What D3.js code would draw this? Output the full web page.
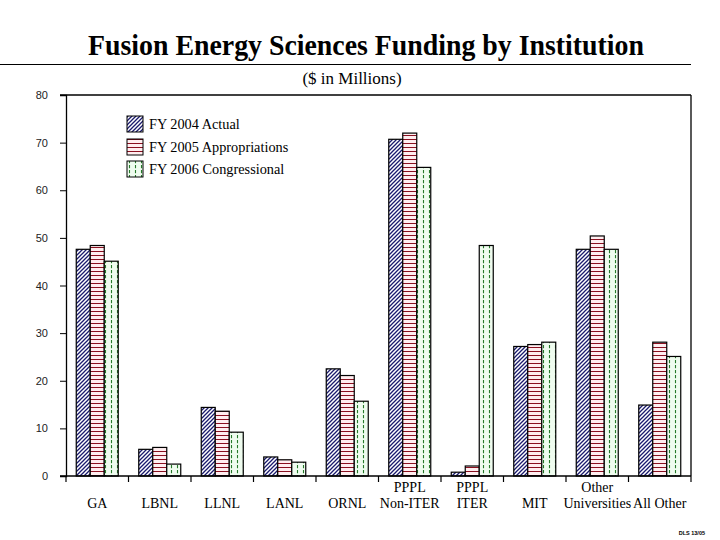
<!DOCTYPE html>
<html><head><meta charset="utf-8">
<script src="https://cdn.jsdelivr.net/npm/d3@7"></script>
<style>body{margin:0;background:#fff}</style>
</head><body>
<svg id="c" width="720" height="540"></svg>
<script>
const categories = ["GA","LBNL","LLNL","LANL","ORNL","PPPL\nNon-ITER","PPPL\nITER","MIT","Other\nUniversities","All Other"];
const fy2004 = [47.6, 5.6, 14.4, 4.0, 22.5, 70.7, 0.8, 27.2, 47.6, 14.9];
const fy2005 = [48.4, 6.0, 13.6, 3.4, 21.1, 72.0, 2.1, 27.6, 50.4, 28.1];
const fy2006 = [45.1, 2.5, 9.2, 2.9, 15.7, 64.8, 48.4, 28.1, 47.6, 25.1];
const seriesNames = ["FY 2004 Actual","FY 2005 Appropriations","FY 2006 Congressional"];
const yTicks = [0,10,20,30,40,50,60,70,80];

const svg = d3.select("#c");
const m = {left:66, right:691, top:95, bottom:476};

const defs = svg.append("defs");
// blue diagonal
const p1 = defs.append("pattern").attr("id","p0").attr("patternUnits","userSpaceOnUse").attr("width",4).attr("height",4);
p1.append("rect").attr("width",4).attr("height",4).attr("fill","#fff");
p1.append("path").attr("d","M-1,1 l2,-2 M0,4 l4,-4 M3,5 l2,-2").attr("stroke","#1a1a6e").attr("stroke-width",1.3);
// red horizontal
const p2 = defs.append("pattern").attr("id","p1").attr("patternUnits","userSpaceOnUse").attr("width",4).attr("height",4);
p2.append("rect").attr("width",4).attr("height",4).attr("fill","#ffeef0");
p2.append("path").attr("d","M0,3.5 H4").attr("stroke","#8a1020").attr("stroke-width",1);
// green vertical dashed
const p3 = defs.append("pattern").attr("id","p2").attr("patternUnits","userSpaceOnUse").attr("width",6).attr("height",5);
p3.append("rect").attr("width",6).attr("height",5).attr("fill","#effcef");
p3.append("path").attr("d","M3.5,0 V3.2").attr("stroke","#267a2a").attr("stroke-width",1.1);

const x = d3.scaleBand().domain(categories).range([m.left, m.right]).paddingInner(0).paddingOuter(0);
const xs = d3.scaleBand().domain([0,1,2]).range([0, 42]);
const y = d3.scaleLinear().domain([0,80]).range([m.bottom, m.top]);

// Title
svg.append("text").attr("x",366).attr("y",55).attr("text-anchor","middle")
  .attr("font-family","Liberation Serif, Times New Roman, serif").attr("font-weight","bold").attr("font-size",29)
  .attr("textLength",556).attr("lengthAdjust","spacingAndGlyphs")
  .text("Fusion Energy Sciences Funding by Institution");
svg.append("line").attr("x1",0).attr("x2",691).attr("y1",64.5).attr("y2",64.5).attr("stroke","#000").attr("stroke-width",1);
svg.append("text").attr("x",352).attr("y",84).attr("text-anchor","middle")
  .attr("font-family","Liberation Serif, Times New Roman, serif").attr("font-size",17)
  .text("($ in Millions)");

// bars
const series = [fy2004, fy2005, fy2006];
series.forEach((vals, si) => {
  svg.append("g").selectAll("rect").data(categories).join("rect")
    .attr("x", (c) => x(c) + (x.bandwidth()-42)/2 + xs(si))
    .attr("width", xs.bandwidth())
    .attr("y", (c,i) => y(vals[i]))
    .attr("height", (c,i) => y(0) - y(vals[i]))
    .attr("fill", `url(#p${si})`).attr("stroke","#000").attr("stroke-width",1.2);
});

// Y axis
const yAxis = d3.axisLeft(y).tickValues(yTicks).tickSize(6).tickPadding(12);
const gy = svg.append("g").attr("transform",`translate(${m.left},0)`).call(yAxis);
gy.select(".domain").attr("stroke-width",1.3);
gy.selectAll("text").attr("font-family","Liberation Sans, Arial, sans-serif").attr("font-size",11).attr("fill","#222");

// box top/right
svg.append("line").attr("x1",60).attr("x2",m.right).attr("y1",m.top).attr("y2",m.top).attr("stroke","#000").attr("stroke-width",1.3);
svg.append("line").attr("x1",m.right).attr("x2",m.right).attr("y1",m.top).attr("y2",m.bottom).attr("stroke","#000").attr("stroke-width",1.3);

// X axis
const gx = svg.append("g").attr("transform",`translate(0,${m.bottom})`);
gx.append("line").attr("x1",60).attr("x2",m.right).attr("stroke","#000").attr("stroke-width",1.5);
const bounds = categories.map(c => x(c)).concat([m.right]);
gx.selectAll("line.t").data(bounds).join("line").attr("class","t")
  .attr("x1",d=>d).attr("x2",d=>d).attr("y1",0).attr("y2",6).attr("stroke","#000").attr("stroke-width",1.2);
categories.forEach(c => {
  const lines = c.split("\n");
  const t = gx.append("text").attr("text-anchor","middle")
    .attr("font-family","Liberation Serif, Times New Roman, serif").attr("font-size",14);
  const cx = x(c) + x.bandwidth()/2;
  if (lines.length === 1) {
    t.append("tspan").attr("x",cx).attr("y",32).text(lines[0]);
  } else {
    t.append("tspan").attr("x",cx).attr("y",16).text(lines[0]);
    t.append("tspan").attr("x",cx).attr("y",32).text(lines[1]);
  }
});

// Legend
const lg = svg.append("g");
const ly = [116, 139, 161];
seriesNames.forEach((n,i) => {
  lg.append("rect").attr("x",127).attr("y",ly[i]).attr("width",16).attr("height",16)
    .attr("fill",`url(#p${i})`).attr("stroke","#000").attr("stroke-width",1);
  lg.append("text").attr("x",149).attr("y",ly[i]+13)
    .attr("font-family","Liberation Serif, Times New Roman, serif").attr("font-size",14.3).text(n);
});

// footnote
svg.append("text").attr("x",705).attr("y",535).attr("text-anchor","end")
  .attr("font-family","Liberation Sans, Arial, sans-serif").attr("font-size",5.5).attr("font-weight","bold").text("DLS 13/05");
</script>
</body></html>
